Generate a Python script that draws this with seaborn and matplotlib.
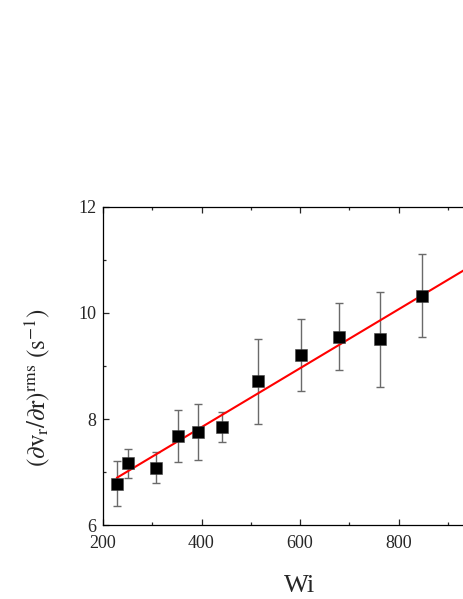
import seaborn as sns
import matplotlib.pyplot as plt
import pandas as pd
import numpy as np
from matplotlib.ticker import MultipleLocator, FixedLocator

# values
wi = [228, 250, 308, 353, 393, 442, 515, 602, 679, 763, 848]
grad = [6.78, 7.17, 7.08, 7.68, 7.76, 7.85, 8.71, 9.20, 9.55, 9.50, 10.32]
grad_lo = [6.35, 6.89, 6.79, 7.18, 7.23, 7.56, 7.91, 8.52, 8.92, 8.61, 9.54]
grad_hi = [7.21, 7.44, 7.37, 8.17, 8.28, 8.14, 9.51, 9.88, 10.19, 10.39, 11.11]

# red linear fit, endpoints
fit_wi = [228, 1000]
fit_grad = [6.89, 11.18]

x_ticks = [200, 400, 600, 800]

data = pd.DataFrame({"Wi": wi, "grad": grad})
fit = pd.DataFrame({"Wi": fit_wi, "grad": fit_grad})

sns.set_style("ticks")
plt.rcParams["font.family"] = ["Liberation Serif", "DejaVu Serif"]
plt.rcParams["mathtext.fontset"] = "stix"

fig = plt.figure(figsize=(4.63, 5.99), dpi=100)
# axes run past the right edge of the figure, as in the reference
ax = fig.add_axes([103 / 463, 74 / 599, 394 / 463, 318 / 599])

yerr = [np.array(grad) - np.array(grad_lo), np.array(grad_hi) - np.array(grad)]
ax.errorbar(wi, grad, yerr=yerr, fmt="none", ecolor="#6a6a6a",
            elinewidth=1.0, capsize=2.8, capthick=1.0, zorder=2)
sns.lineplot(data=fit, x="Wi", y="grad", color="red", linewidth=1.5,
             ax=ax, zorder=3)
sns.scatterplot(data=data, x="Wi", y="grad", marker="s", s=80,
                color="black", edgecolor="#444444", linewidth=0.4,
                ax=ax, zorder=4)

ax.set_xlim(200, 1000)
ax.set_ylim(6, 12)
ax.xaxis.set_major_locator(FixedLocator(x_ticks))
ax.xaxis.set_minor_locator(MultipleLocator(100))
ax.yaxis.set_major_locator(MultipleLocator(2))
ax.yaxis.set_minor_locator(MultipleLocator(1))
ax.tick_params(which="both", direction="in", top=True, right=True,
               width=0.9, labelsize=13)
ax.tick_params(which="major", length=4)
ax.tick_params(which="minor", length=2.5)
ax.tick_params(axis="x", pad=7)
ax.tick_params(axis="y", pad=5)
for sp in ax.spines.values():
    sp.set_linewidth(0.9)
    sp.set_color("black")

ax.set_xlabel("Wi", fontsize=19)
ax.set_ylabel(r"$(\partial\mathrm{v}_\mathrm{r}/\partial\mathrm{r})^\mathrm{rms}\ (\mathrm{s}^{-1})$",
              fontsize=18)
ax.xaxis.set_label_coords(0.5, -0.157)
ax.yaxis.set_label_coords(-0.13, 0.43)

plt.savefig("out.png", dpi=100)
